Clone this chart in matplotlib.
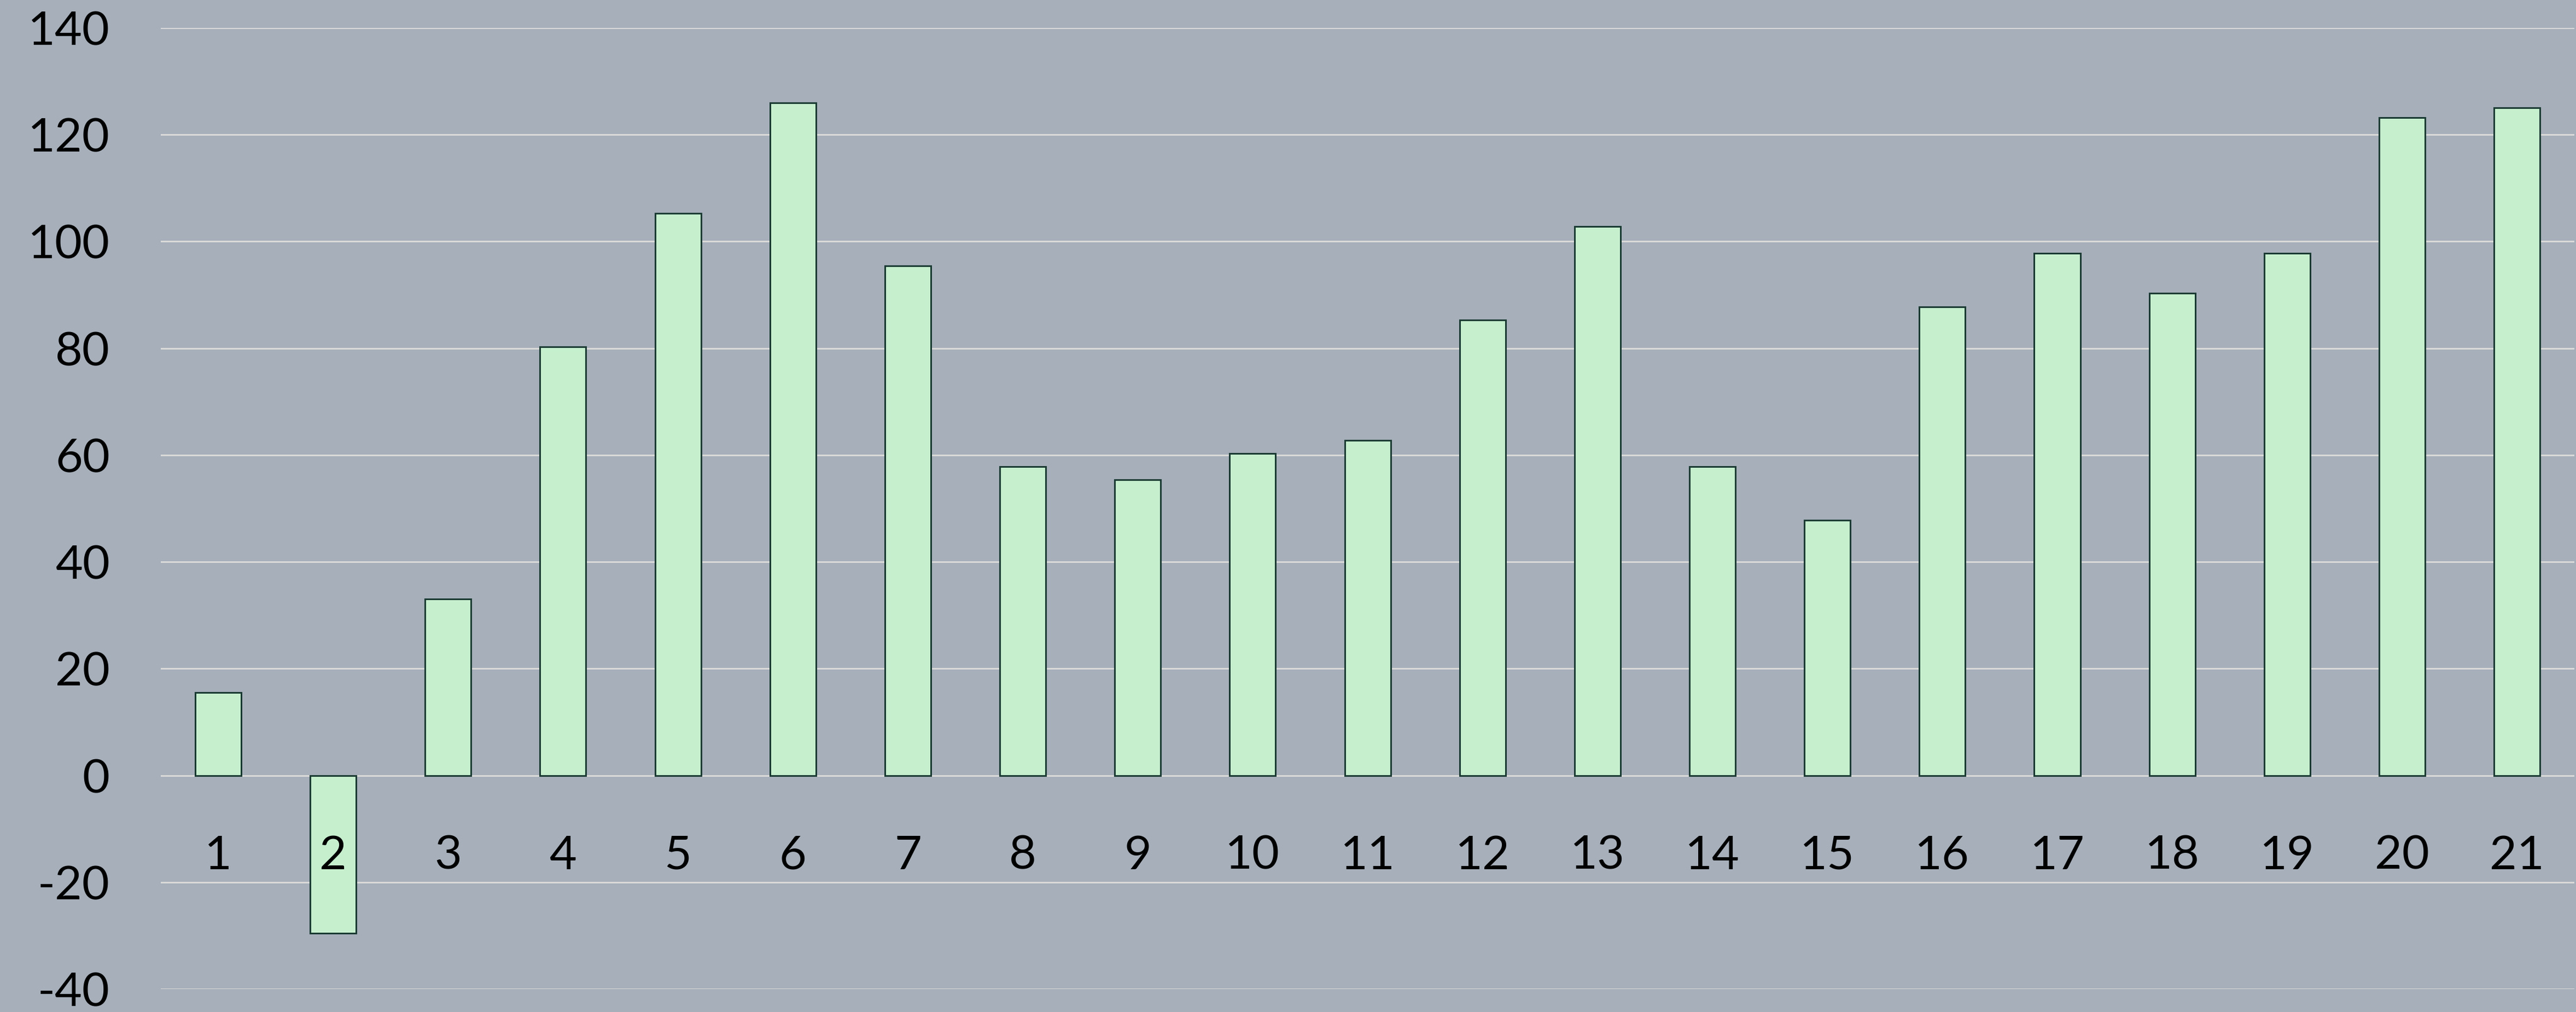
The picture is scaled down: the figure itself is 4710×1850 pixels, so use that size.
import matplotlib.pyplot as plt
import numpy as np

# значения столбцов
categories = [str(i) for i in range(1, 22)]
values = [15.5, -29.5, 33.0, 80.3, 105.3, 126.0, 95.4, 57.8, 55.4, 60.3, 62.8,
          85.3, 102.8, 57.8, 47.8, 87.8, 97.8, 90.3, 97.8, 123.2, 125.0]
y_ticks = [-40, -20, 0, 20, 40, 60, 80, 100, 120, 140]

bg = '#A6AFBA'
plt.rcParams['font.family'] = ['Lato', 'DejaVu Sans']

fig = plt.figure(figsize=(47.1, 18.5), dpi=100, facecolor=bg)
ax = fig.add_axes([0.0624, 0.0227, 0.937, 0.9497])
ax.set_facecolor(bg)

# сетка под столбцами
for yv in y_ticks:
    ax.axhline(yv, color='#D9D9D9', linewidth=2.2, zorder=0.5)

x = np.arange(1, len(categories) + 1)
ax.bar(x, values, width=0.4, color='#C6EFCE', edgecolor='#1B3B33',
       linewidth=2.2, zorder=1)

ax.set_xlim(0.5, len(categories) + 0.5)
ax.set_ylim(-40, 140)
ax.set_yticks(y_ticks)
ax.set_yticklabels([str(v) for v in y_ticks])
ax.set_xticks(x)
ax.set_xticklabels(categories)

for s in ['top', 'right', 'left', 'bottom']:
    ax.spines[s].set_visible(False)
ax.spines['bottom'].set_position(('data', 0))
ax.set_axisbelow(False)  # подписи поверх столбцов

ax.tick_params(axis='y', length=0, pad=67, labelsize=62, labelcolor='black')
ax.tick_params(axis='x', length=0, pad=78, labelsize=62, labelcolor='black')

fig.savefig('out.png', dpi=100, facecolor=bg)
